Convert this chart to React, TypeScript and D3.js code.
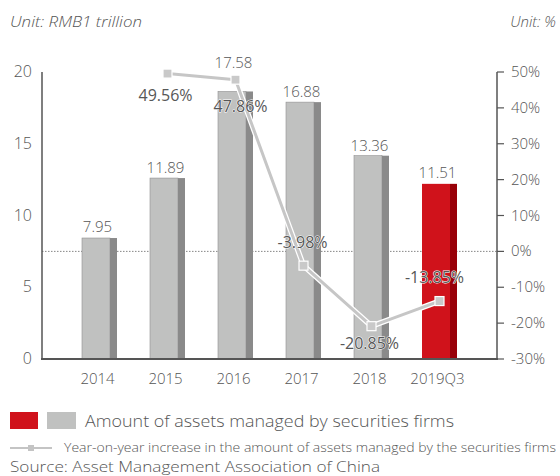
import React from "react";
import * as d3 from "d3";

const categories = ["2014", "2015", "2016", "2017", "2018", "2019Q3"];
const assets = [7.95, 11.89, 17.58, 16.88, 13.36, 11.51];
const growth: (number | null)[] = [null, 49.56, 47.86, -3.98, -20.85, -13.85];
const leftTicks = [0, 5, 10, 15, 20];
const rightTicks = [-30, -20, -10, 0, 10, 20, 30, 40, 50];

const W = 560;
const H = 476;
const FONT = "'Open Sans', Lato, sans-serif";
const TXT = "#555";

// layout tweaks (label offsets relative to the marker / bar top)
const valueLabelDy = [-6, -5, -23, -5, -5, -6];
const pctLabelOffset: [number, number][] = [
  [0, 0],
  [-2, 27],
  [5, 32],
  [-1, -18],
  [-2, 23],
  [-5, -18],
];

export default function App() {
  const x0 = 42;
  const x1 = 497;
  const yTop = 72;
  const yBot = 359;

  const x = d3.scalePoint<string>().domain(categories).range([65.5, 473.5]).padding(0.5);
  const yAxis = d3.scaleLinear().domain([0, 20]).range([yBot, yTop]);
  const yBar = d3.scaleLinear().domain([0, 18.86]).range([yBot, yTop]);
  const yPct = d3.scaleLinear().domain([-30, 50]).range([yBot, yTop]);

  const barW = 35;
  const sideW = 7;

  const pts = categories
    .map((c, i) => ({ c, v: growth[i], i }))
    .filter((d) => d.v !== null) as { c: string; v: number; i: number }[];

  const line = d3
    .line<{ c: string; v: number }>()
    .x((d) => x(d.c)!)
    .y((d) => yPct(d.v));
  const path = line(pts) || "";

  const fmtPct = (v: number) => `${v.toFixed(2)}%`;

  return (
    <svg
      width={W}
      height={H}
      style={{ position: "absolute", left: 0, top: 0, background: "#fff" }}
      fontFamily={FONT}
      fontWeight={300}
    >
      <text x={10} y={27} fontSize={15} fontStyle="italic" fill={TXT} textLength={132} lengthAdjust="spacingAndGlyphs">
        Unit: RMB1 trillion
      </text>
      <text x={556} y={27} fontSize={15} fontStyle="italic" fill={TXT} textAnchor="end">
        Unit: %
      </text>

      {/* zero % dotted reference */}
      <line
        x1={x0}
        x2={x1}
        y1={yPct(0)}
        y2={yPct(0)}
        stroke="#666"
        strokeWidth={0.8}
        strokeDasharray="1.5,1.5"
      />

      {/* bars */}
      {categories.map((c, i) => {
        const cx = x(c)!;
        const top = yBar(assets[i]);
        const isLast = i === categories.length - 1;
        const light = isLast ? "#d0121b" : "#c0c1c0";
        const dark = isLast ? "#980008" : "#8a8a8a";
        const left = cx - barW / 2;
        return (
          <g key={c}>
            <rect
              x={left}
              y={top}
              width={barW - sideW}
              height={yBot - top}
              fill={light}
              stroke={isLast ? "none" : "#8f8f8f"}
              strokeWidth={isLast ? 0 : 0.6}
            />
            <rect x={left + barW - sideW} y={top} width={sideW} height={yBot - top} fill={dark} />
            <text
              x={cx - 2}
              y={top + valueLabelDy[i]}
              fontSize={15}
              fill={TXT}
              textAnchor="middle"
            >
              {assets[i].toFixed(2)}
            </text>
            <text x={cx - 2} y={384} fontSize={15} fill={TXT} textAnchor="middle">
              {c}
            </text>
          </g>
        );
      })}

      {/* axes */}
      <line x1={x0} x2={x0} y1={yTop} y2={yBot} stroke="#555" strokeWidth={1.5} />
      <line x1={x0 - 1} x2={x1 + 1} y1={yBot} y2={yBot} stroke="#555" strokeWidth={2} />
      <line x1={x1} x2={x1} y1={yTop} y2={yBot} stroke="#555" strokeWidth={1.5} />

      {leftTicks.map((t) => (
        <text
          key={t}
          x={32}
          y={yAxis(t) + 5}
          fontSize={16}
          fill={TXT}
          textAnchor="end"
        >
          {t}
        </text>
      ))}
      {rightTicks.map((t) => (
        <g key={t}>
          <line x1={x1} x2={x1 + 7} y1={yPct(t)} y2={yPct(t)} stroke="#555" strokeWidth={1.2} />
          <text x={511} y={yPct(t) + 5} fontSize={15} fill={TXT}>
            {`${t}%`}
          </text>
        </g>
      ))}

      {/* growth line */}
      <path d={path} fill="none" stroke="#ffffff" strokeWidth={5.5} strokeLinejoin="round" />
      <path d={path} fill="none" stroke="#c6c6c6" strokeWidth={3} strokeLinejoin="round" />
      {pts.map((d) => (
        <rect
          key={d.c}
          x={x(d.c)! - 4.5}
          y={yPct(d.v) - 4.5}
          width={9}
          height={9}
          fill="#c9c9c9"
          stroke="#ffffff"
          strokeWidth={1.2}
        />
      ))}
      {pts.map((d) => (
        <text
          key={"l" + d.c}
          x={x(d.c)! + pctLabelOffset[d.i][0]}
          y={yPct(d.v) + pctLabelOffset[d.i][1]}
          fontSize={16}
          fontWeight={400}
          fill="#575757"
          stroke="#ffffff"
          strokeWidth={1}
          paintOrder="stroke"
          textAnchor="middle"
        >
          {fmtPct(d.v)}
        </text>
      ))}

      {/* legend */}
      <rect x={10} y={412} width={28} height={17} fill="#d0121b" />
      <rect x={47} y={412} width={29} height={17} fill="#c0c1c0" />
      <text x={85} y={427} fontSize={17} fill={TXT} textLength={369} lengthAdjust="spacingAndGlyphs">
        Amount of assets managed by securities firms
      </text>
      <line x1={10} x2={52} y1={448} y2={448} stroke="#c4c4c4" strokeWidth={2} />
      <rect x={28} y={445} width={6} height={6} fill="#c4c4c4" />
      <text x={64} y={452} fontSize={13} fill={TXT} textLength={492} lengthAdjust="spacingAndGlyphs">
        Year-on-year increase in the amount of assets managed by the securities firms
      </text>
      <text x={10} y={472} fontSize={15} fill={TXT} textLength={370} lengthAdjust="spacingAndGlyphs">
        Source: Asset Management Association of China
      </text>
    </svg>
  );
}
